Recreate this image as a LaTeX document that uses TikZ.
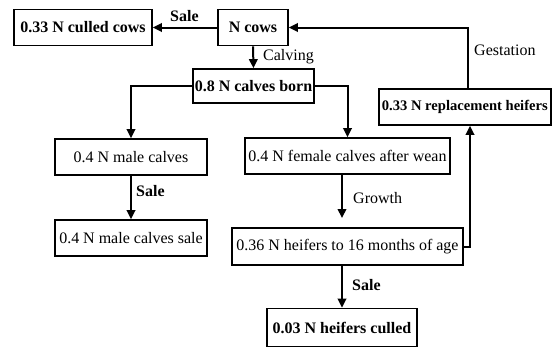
\documentclass[tikz,border=0pt]{standalone}
\usepackage{fontspec}
\setmainfont{Liberation Serif}
\usetikzlibrary{arrows.meta}
\begin{document}
\begin{tikzpicture}[x=1pt,y=-1pt,
  box/.style={draw,line width=1.7pt,inner sep=0pt,minimum height=36pt,font=\fontsize{16}{18}\selectfont},
  bbox/.style={box,font=\fontsize{16}{18}\selectfont\bfseries},
  lab/.style={inner sep=0pt,font=\fontsize{16}{18}\selectfont,anchor=west},
  blab/.style={lab,font=\fontsize{16}{18}\selectfont\bfseries},
  arr/.style={line width=2pt,-{Triangle[length=9pt,width=8.5pt]}},
  ln/.style={line width=2pt}]
\useasboundingbox (0,0) rectangle (552,348);
\node[bbox,minimum width=138pt] (culled) at (83,27.5) {0.33 N culled cows};
\node[bbox,minimum width=70pt] (ncows) at (253,27.5) {N cows};
\node[bbox,minimum width=121pt,minimum height=34pt] (born) at (253.5,86) {0.8 N calves born};
\node[bbox,anchor=west,inner xsep=3pt,font=\fontsize{14.6}{18}\selectfont\bfseries] (repl) at (378,107) {0.33 N replacement heifers};
\node[box,minimum width=152pt] (male) at (131,157) {0.4 N male calves};
\node[box,minimum width=152pt] (malesale) at (131,238) {0.4 N male calves sale};
\node[box,minimum width=205pt] (female) at (347.5,156) {0.4 N female calves after wean};
\node[box,minimum width=231pt,minimum height=37pt] (heif) at (347.5,246.5) {0.36 N heifers to 16 months of age};
\node[bbox,minimum width=150pt,minimum height=38pt] (hcull) at (342,327.5) {0.03 N heifers culled};
\coordinate (gtip) at (342,218);
% connectors
\draw[arr] (ncows.west) -- (culled.east);
\node[blab] (l1) at (170,16) {Sale};
\draw[arr] (ncows.south) -- (born.north);
\node[lab] (l2) at (263,57) {Calving};
\draw[arr] (born.west) -| (male.north);
\draw[arr] (born.east) -| (female.north);
\draw[arr] (male.south) -- (malesale.north);
\node[blab] (l3) at (136,191) {Sale};
\draw[arr] (female.south -| gtip) -- (gtip);
\node[lab] (l4) at (353,198) {Growth};
\draw[arr] (heif.east) -| (repl.south -| 470,0);
\draw[arr] (heif.south -| hcull.north) -- (hcull.north);
\node[blab] (l5) at (352,285) {Sale};
\draw[arr] (repl.north -| 468,0) |- (ncows.east);
\node[lab] (l6) at (474,50) {Gestation};
\end{tikzpicture}
\end{document}
